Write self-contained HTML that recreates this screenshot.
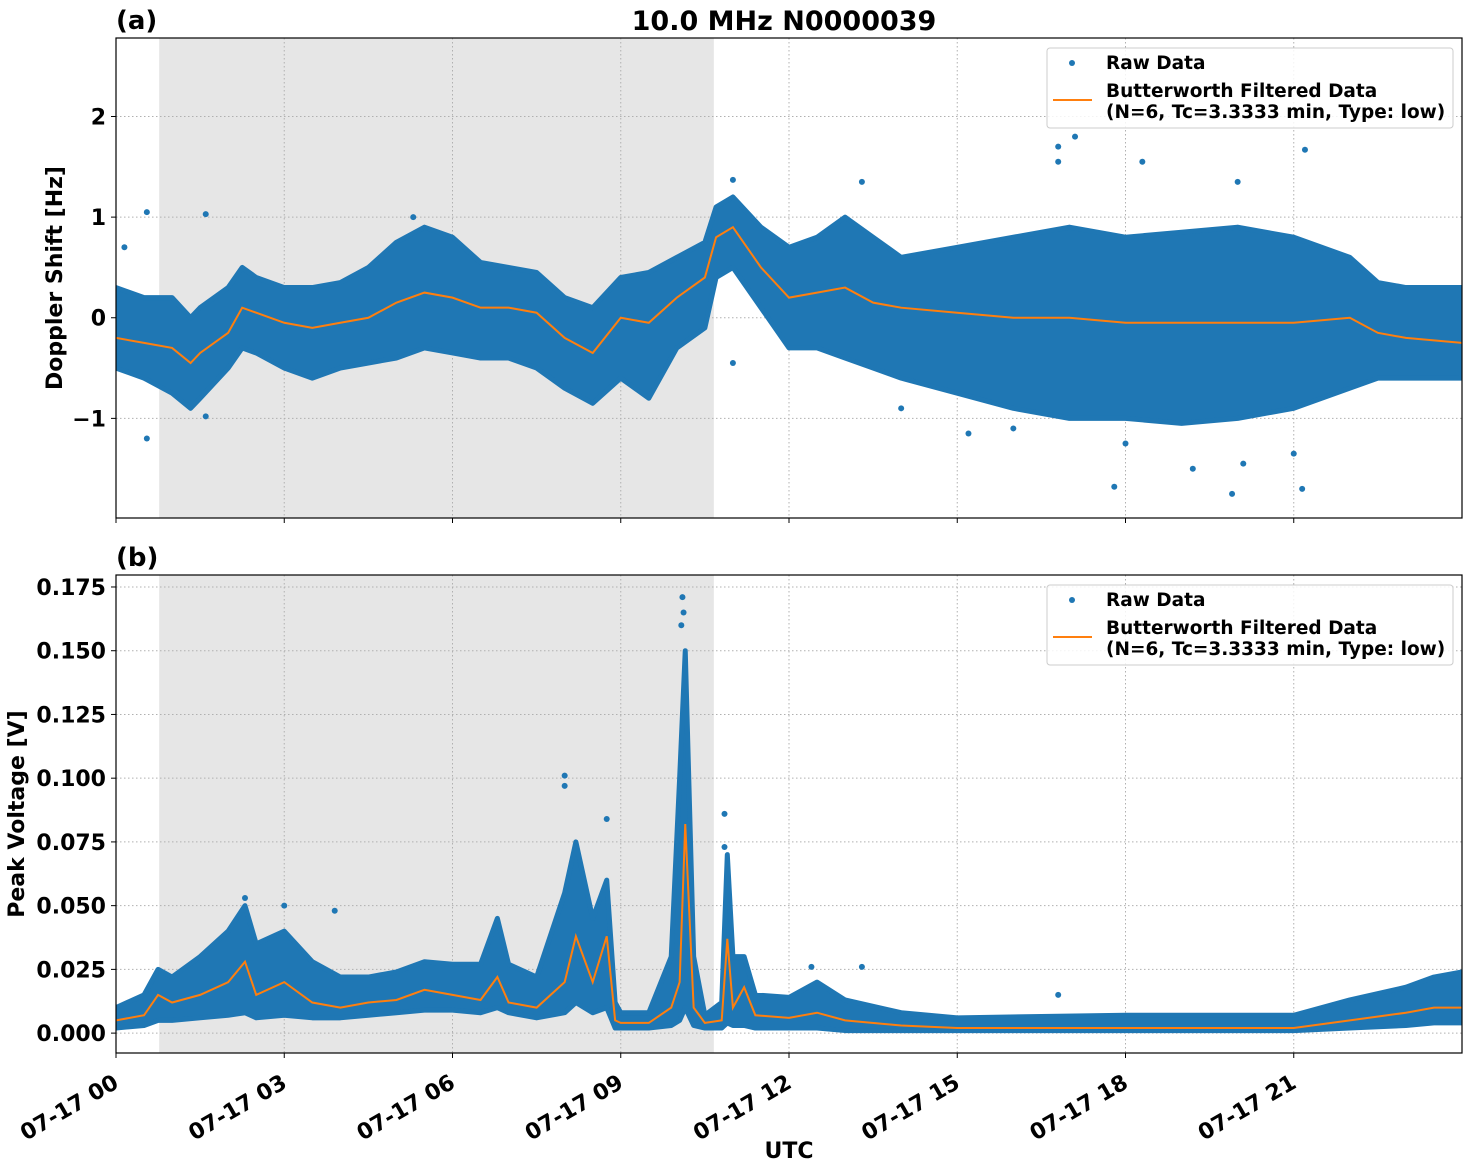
<!DOCTYPE html>
<html><head><meta charset="utf-8">
<style>
body{margin:0;background:#fff;}
svg{display:block;font-family:"DejaVu Sans","Liberation Sans",sans-serif;font-weight:bold;}
</style></head>
<body>
<svg id="chart" width="1472" height="1172" viewBox="0 0 1472 1172" xmlns="http://www.w3.org/2000/svg"></svg>
<script>
// ---- Shared x data ----
const xTickHours = [0,3,6,9,12,15,18,21];
const xTickLabels = ["07-17 00","07-17 03","07-17 06","07-17 09","07-17 12","07-17 15","07-17 18","07-17 21"];
const shadeRange = [0.77, 10.66];

// ---- Panel (a): Doppler shift ----
const dopTimes = [0,0.5,1,1.33,1.5,2,2.25,2.5,3,3.5,4,4.5,5,5.5,6,6.5,7,7.5,8,8.5,9,9.5,10,10.5,10.7,11,11.5,12,12.5,13,13.5,14,15,16,17,18,19,20,21,22,22.5,23,24];
const dopFiltered = [-0.2,-0.25,-0.3,-0.45,-0.35,-0.15,0.1,0.05,-0.05,-0.1,-0.05,0.0,0.15,0.25,0.2,0.1,0.1,0.05,-0.2,-0.35,0.0,-0.05,0.2,0.4,0.8,0.9,0.5,0.2,0.25,0.3,0.15,0.1,0.05,0.0,0.0,-0.05,-0.05,-0.05,-0.05,0.0,-0.15,-0.2,-0.25];
const dopUpper = [0.3,0.2,0.2,0.0,0.1,0.3,0.5,0.4,0.3,0.3,0.35,0.5,0.75,0.9,0.8,0.55,0.5,0.45,0.2,0.1,0.4,0.45,0.6,0.75,1.1,1.2,0.9,0.7,0.8,1.0,0.8,0.6,0.7,0.8,0.9,0.8,0.85,0.9,0.8,0.6,0.35,0.3,0.3];
const dopLower = [-0.5,-0.6,-0.75,-0.9,-0.8,-0.5,-0.3,-0.35,-0.5,-0.6,-0.5,-0.45,-0.4,-0.3,-0.35,-0.4,-0.4,-0.5,-0.7,-0.85,-0.6,-0.8,-0.3,-0.1,0.4,0.5,0.1,-0.3,-0.3,-0.4,-0.5,-0.6,-0.75,-0.9,-1.0,-1.0,-1.05,-1.0,-0.9,-0.7,-0.6,-0.6,-0.6];
const dopOutT = [0.15,0.55,0.55,1.6,1.6,5.3,11.0,13.3,16.8,16.8,17.1,17.8,18.3,19.9,20.0,21.2,21.15,11.0,15.2,18.0,19.2,20.1,21.0,16.0,14.0];
const dopOutV = [0.7,1.05,-1.2,1.03,-0.98,1.0,1.37,1.35,1.7,1.55,1.8,-1.68,1.55,-1.75,1.35,1.67,-1.7,-0.45,-1.15,-1.25,-1.5,-1.45,-1.35,-1.1,-0.9];

// ---- Panel (b): Peak voltage ----
const volTimes = [0,0.5,0.75,1,1.5,2,2.3,2.5,3,3.5,4,4.5,5,5.5,6,6.5,6.8,7,7.5,8,8.2,8.5,8.75,8.9,9,9.5,9.9,10.05,10.15,10.3,10.5,10.8,10.9,11,11.2,11.4,12,12.5,13,14,15,18,21,22,23,23.5,24];
const volFiltered = [0.005,0.007,0.015,0.012,0.015,0.02,0.028,0.015,0.02,0.012,0.01,0.012,0.013,0.017,0.015,0.013,0.022,0.012,0.01,0.02,0.038,0.02,0.038,0.005,0.004,0.004,0.01,0.02,0.082,0.01,0.004,0.005,0.037,0.01,0.018,0.007,0.006,0.008,0.005,0.003,0.002,0.002,0.002,0.005,0.008,0.01,0.01];
const volUpper = [0.01,0.015,0.025,0.022,0.03,0.04,0.05,0.035,0.04,0.028,0.022,0.022,0.024,0.028,0.027,0.027,0.045,0.027,0.022,0.055,0.075,0.045,0.06,0.012,0.008,0.008,0.03,0.1,0.15,0.03,0.007,0.012,0.07,0.03,0.03,0.015,0.014,0.02,0.013,0.008,0.006,0.007,0.007,0.013,0.018,0.022,0.024];
const volLower = [0.002,0.003,0.005,0.005,0.006,0.007,0.008,0.006,0.007,0.006,0.006,0.007,0.008,0.009,0.009,0.008,0.01,0.008,0.006,0.008,0.012,0.008,0.01,0.002,0.002,0.002,0.003,0.005,0.01,0.003,0.002,0.002,0.004,0.003,0.003,0.002,0.002,0.002,0.001,0.001,0.001,0.001,0.001,0.002,0.003,0.004,0.004];
const volOutT = [8.0,8.0,8.75,10.1,10.12,10.08,10.85,10.85,2.3,3.0,3.9,13.3,16.8,12.4];
const volOutV = [0.101,0.097,0.084,0.171,0.165,0.16,0.086,0.073,0.053,0.05,0.048,0.026,0.015,0.026];

const svg = document.getElementById('chart');
const NS = 'http://www.w3.org/2000/svg';
function mk(tag, attrs, parent){const e=document.createElementNS(NS,tag);for(const k in attrs)e.setAttribute(k,attrs[k]);(parent||svg).appendChild(e);return e;}

const X0=116, X1=1462;
const xs = h => X0 + (h/24)*(X1-X0);

function panel(cfg){
  const {top,bot,ymin,ymax,ticks,tickLabels,times,filt,up,lo,outT,outV,ylabel,ylabelX,tag,name} = cfg;
  const ys = v => bot - (v-ymin)/(ymax-ymin)*(bot-top);
  const g = mk('g',{},svg);
  
  
  const clipId = name+'-clip';
  const cp = mk('clipPath',{id:clipId},g); mk('rect',{x:X0,y:top,width:X1-X0,height:bot-top},cp);
  const sh = mk('rect',{x:xs(shadeRange[0]),y:top,width:xs(shadeRange[1])-xs(shadeRange[0]),height:bot-top,fill:'#e6e6e6'},g);
  
  
  xTickHours.forEach(h=>{mk('line',{x1:xs(h),x2:xs(h),y1:top,y2:bot,stroke:'#b0b0b0','stroke-width':1,'stroke-dasharray':'1.5,2.5'},g);});
  ticks.forEach(v=>{mk('line',{x1:X0,x2:X1,y1:ys(v),y2:ys(v),stroke:'#b0b0b0','stroke-width':1,'stroke-dasharray':'1.5,2.5'},g);});
  const dg = mk('g',{'clip-path':'url(#'+clipId+')'},g);
  let pts = times.map((t,i)=>xs(t)+','+ys(up[i]));
  for(let i=times.length-1;i>=0;i--) pts.push(xs(times[i])+','+ys(lo[i]));
  const env = mk('polygon',{points:pts.join(' '),fill:'#1f77b4',stroke:'#1f77b4','stroke-width':5,'stroke-linejoin':'round'},dg);
  
  
  outT.forEach((t,i)=>{
    const c = mk('circle',{cx:xs(t),cy:ys(outV[i]),r:3,fill:'#1f77b4'},dg);
    
    
  });
  const line = mk('polyline',{points:times.map((t,i)=>xs(t)+','+ys(filt[i])).join(' '),fill:'none',stroke:'#ff7f0e','stroke-width':2},dg);
  
  
  mk('rect',{x:X0,y:top,width:X1-X0,height:bot-top,fill:'none',stroke:'#000','stroke-width':1.2},g);
  ticks.forEach((v,i)=>{
    mk('line',{x1:X0-5,x2:X0,y1:ys(v),y2:ys(v),stroke:'#000'},g);
    const t = mk('text',{x:X0-10,y:ys(v)+8,'text-anchor':'end','font-size':22},g);
    t.textContent = tickLabels[i];
    
    
  });
  xTickHours.forEach(h=>mk('line',{x1:xs(h),x2:xs(h),y1:bot,y2:bot+5,stroke:'#000'},g));
  const yl = mk('text',{x:ylabelX,y:(top+bot)/2,'text-anchor':'middle','font-size':22,transform:'rotate(-90 '+ylabelX+' '+((top+bot)/2)+')'},g);
  yl.textContent = ylabel;
  
  
  const tg = mk('text',{x:116,y:top-9,'font-size':26},g);
  tg.textContent = tag;
  
  
  const lg = mk('g',{},g);
  
  
  const ly = top+10;
  mk('rect',{x:1047,y:ly,width:406,height:80,rx:3,fill:'#fff','fill-opacity':0.85,stroke:'#ccc'},lg);
  mk('circle',{cx:1072,cy:ly+15,r:3,fill:'#1f77b4'},lg);
  const l1 = mk('text',{x:1106,y:ly+21,'font-size':18.5},lg); l1.textContent='Raw Data';
  
  
  mk('line',{x1:1053,x2:1092,y1:ly+52,y2:ly+52,stroke:'#ff7f0e','stroke-width':2},lg);
  const l2 = mk('text',{x:1106,y:ly+49,'font-size':18.5},lg); l2.textContent='Butterworth Filtered Data';
  
  
  const l3 = mk('text',{x:1106,y:ly+70,'font-size':18.5},lg); l3.textContent='(N=6, Tc=3.3333 min, Type: low)';
  
  
}

panel({top:38,bot:518,ymin:-1.99,ymax:2.78,ticks:[-1,0,1,2],tickLabels:['\u22121','0','1','2'],
  times:dopTimes,filt:dopFiltered,up:dopUpper,lo:dopLower,outT:dopOutT,outV:dopOutV,
  ylabel:'Doppler Shift [Hz]',ylabelX:62,tag:'(a)',name:'doppler-panel'});
panel({top:575,bot:1053,ymin:-0.0078,ymax:0.1797,ticks:[0,0.025,0.05,0.075,0.1,0.125,0.15,0.175],
  tickLabels:['0.000','0.025','0.050','0.075','0.100','0.125','0.150','0.175'],
  times:volTimes,filt:volFiltered,up:volUpper,lo:volLower,outT:volOutT,outV:volOutV,
  ylabel:'Peak Voltage [V]',ylabelX:24,tag:'(b)',name:'voltage-panel'});

xTickHours.forEach((h,i)=>{
  const x=xs(h)-1, y=1078;
  const t = mk('text',{x:x,y:y+10,'text-anchor':'end','font-size':22,transform:'rotate(-30 '+x+' '+y+')'});
  t.textContent = xTickLabels[i];
  
  
});
const xt = mk('text',{x:789,y:1158,'text-anchor':'middle','font-size':22});
xt.textContent='UTC';


const tt = mk('text',{x:784,y:30,'text-anchor':'middle','font-size':27});
tt.textContent='10.0 MHz N0000039';


</script>
</body></html>
